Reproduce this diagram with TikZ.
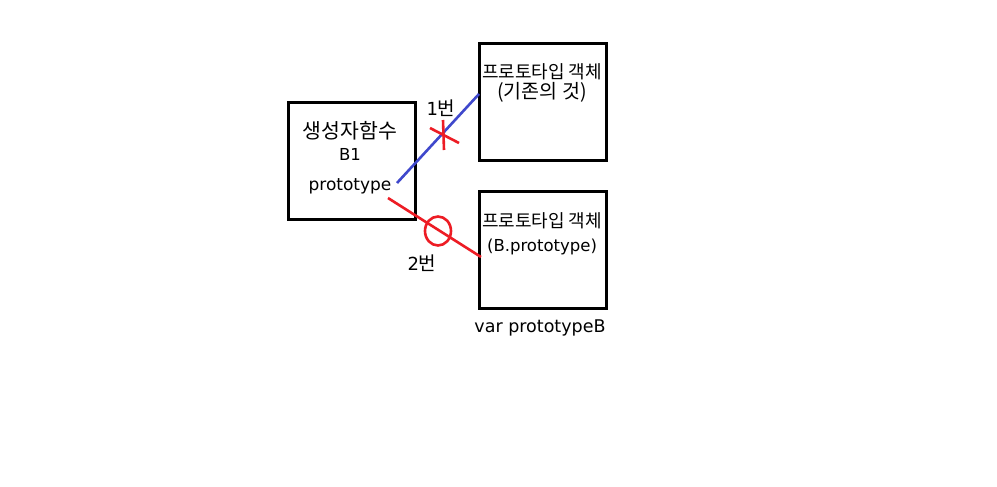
\documentclass[tikz,border=0pt]{standalone}
\usepackage{fontspec}
\newfontfamily\kr{Noto Sans CJK KR}
\newfontfamily\lat{DejaVu Sans}
\definecolor{pblue}{HTML}{3F48CC}
\definecolor{pred}{HTML}{ED1C24}
\begin{document}
\begin{tikzpicture}[x=1pt,y=-1pt,
  box/.style={draw=black,line width=3pt,minimum width=127pt,minimum height=117pt,inner sep=0pt,anchor=north west},
  krtxt/.style={font=\kr\fontsize{18}{20}\selectfont,inner sep=0pt},
  kbig/.style={font=\kr\fontsize{20.5}{22}\selectfont,inner sep=0pt},
  lattxt/.style={font=\lat\fontsize{16.5}{18}\selectfont,inner sep=0pt},
  blueln/.style={draw=pblue,line width=2.6pt},
  redln/.style={draw=pred,line width=2.6pt}]
\useasboundingbox[fill=white] (0,0) rectangle (997,487);
\node[box] (ctor) at (287,101) {};
\node[box] (protoA) at (478,42) {};
\node[box] (protoB) at (478,190) {};
\node[kbig] (ctortitle) at (350,131) {생성자함수};
\node[lattxt] (b1) at (350,154) {B1};
\node[lattxt,font=\lat\fontsize{17}{18}\selectfont] (ptype) at (350,186) {prototype};
\node[krtxt] (pa1) at (542,72) {프로토타입 객체};
\node[krtxt,font=\kr\fontsize{19.5}{21}\selectfont] (pa2) at (542,92) {(기존의 것)};
\node[krtxt] (pb1) at (542,221) {프로토타입 객체};
\node[lattxt] (pb2) at (542,247) {(B.prototype)};
\node[font=\lat\fontsize{17.5}{19}\selectfont,inner sep=0pt] (varb) at (540,328) {var prototypeB};
\node[inner sep=0pt] (one) at (441,108) {{\lat\fontsize{18}{20}\selectfont 1}{\kr\fontsize{19}{20}\selectfont 번}};
\node[inner sep=0pt] (two) at (422,263) {{\lat\fontsize{18}{20}\selectfont 2}{\kr\fontsize{19}{20}\selectfont 번}};
\coordinate (bs) at (397,183);
\coordinate (be) at (479,94);
\coordinate (rs) at (388,198);
\coordinate (re) at (481,257);
\coordinate (xa1) at (430,128);
\coordinate (xa2) at (459,143);
\coordinate (xb1) at (443,120);
\coordinate (xb2) at (444,150);
\coordinate (oc) at (438,231);
\draw[blueln] (bs) -- (be);
\draw[redln] (xa1) -- (xa2);
\draw[redln] (xb1) -- (xb2);
\draw[redln] (rs) -- (re);
\draw[redln] (oc) ellipse [x radius=13pt, y radius=14.5pt];
\end{tikzpicture}
\end{document}
